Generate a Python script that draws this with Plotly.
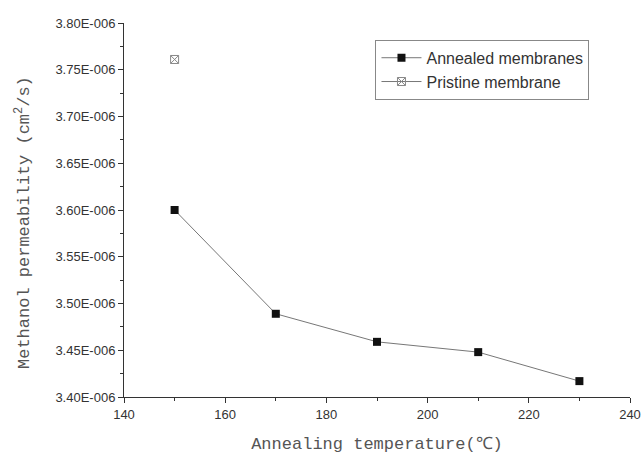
import plotly.graph_objects as go

temps = [150, 170, 190, 210, 230]
annealed = [3.600e-6, 3.489e-6, 3.459e-6, 3.448e-6, 3.417e-6]
pristine_t = [150]
pristine = [3.761e-6]

y_ticks = [3.40e-6, 3.45e-6, 3.50e-6, 3.55e-6, 3.60e-6, 3.65e-6, 3.70e-6, 3.75e-6, 3.80e-6]
y_ticktext = ["3.40E-006", "3.45E-006", "3.50E-006", "3.55E-006", "3.60E-006",
              "3.65E-006", "3.70E-006", "3.75E-006", "3.80E-006"]
x_ticks = [140, 160, 180, 200, 220, 240]

fig = go.Figure()
fig.add_trace(go.Scatter(
    x=temps, y=annealed, mode="lines+markers", name="Annealed membranes",
    line=dict(color="#777777", width=1),
    marker=dict(symbol="square", size=8, color="#111111", line=dict(color="#111111", width=0)),
))
fig.add_trace(go.Scatter(
    x=pristine_t, y=pristine, mode="lines+markers", name="Pristine membrane",
    line=dict(color="#777777", width=1),
    marker=dict(symbol="square-x-open", size=8, color="#888888", line=dict(width=1)),
))

fig.update_layout(
    width=642, height=454,
    margin=dict(l=124, r=12, t=23, b=57, autoexpand=False),
    paper_bgcolor="white", plot_bgcolor="white",
    font=dict(family="Liberation Sans, Arial, sans-serif", size=13, color="#333333"),
    showlegend=True,
    legend=dict(
        x=0.497, y=0.955, xanchor="left", yanchor="top",
        bordercolor="#888888", borderwidth=1, bgcolor="white",
        font=dict(family="Liberation Sans, Arial, sans-serif", size=16, color="#333333"),
        tracegroupgap=0, itemwidth=40,
    ),
    annotations=[dict(
        text="Methanol permeability (cm<sup>2</sup>/s)", textangle=-90,
        xref="paper", yref="paper", x=(23 - 124) / 506, y=(397 - 223) / 374,
        xanchor="center", yanchor="middle", showarrow=False,
        font=dict(family="Liberation Mono, DejaVu Sans Mono, monospace", size=17, color="#555555"),
    )],
)
fig.update_xaxes(
    range=[140, 240], tickvals=x_ticks, ticks="outside", ticklen=5, tickwidth=1,
    tickcolor="#333333", showline=True, linecolor="#333333", linewidth=1,
    showgrid=False, zeroline=False, automargin=False,
    minor=dict(dtick=10, tick0=140, ticks="outside", ticklen=3, tickcolor="#333333", showgrid=False),
    title=dict(text="Annealing temperature(℃)",
               font=dict(family="Liberation Mono, DejaVu Sans Mono, monospace", size=17, color="#555555"),
               standoff=17),
    tickfont=dict(size=13),
)
fig.update_yaxes(
    range=[3.40e-6, 3.80e-6], tickvals=y_ticks, ticktext=y_ticktext, ticks="outside",
    ticklen=5, tickwidth=1, tickcolor="#333333", showline=True, linecolor="#333333",
    linewidth=1, showgrid=False, zeroline=False, automargin=False,
    minor=dict(dtick=0.025e-6, tick0=3.40e-6, ticks="outside", ticklen=3, tickcolor="#333333", showgrid=False),
    tickfont=dict(size=13),
)

fig.write_html("out.html")
